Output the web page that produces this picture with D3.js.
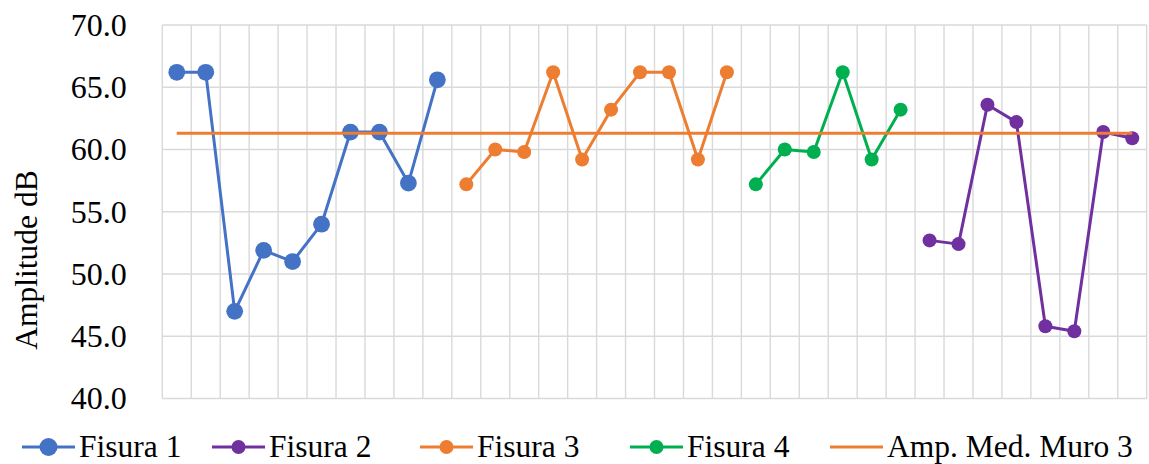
<!DOCTYPE html>
<html><head><meta charset="utf-8">
<script src="https://cdn.jsdelivr.net/npm/d3@7"></script>
</head><body style="margin:0;background:#fff"><svg id="c" width="1149" height="464" style="display:block"></svg>
<script>
const categories = [1,2,3,4,5,6,7,8,9,10,11,12,13,14,15,16,17,18,19,20,21,22,23,24,25,26,27,28,29,30,31,32,33,34];
const yTicks = [40,45,50,55,60,65,70];
const fisura1 = [66.2,66.2,47.0,51.9,51.0,54.0,61.4,61.4,57.3,65.6,null,null,null,null,null,null,null,null,null,null,null,null,null,null,null,null,null,null,null,null,null,null,null,null];
const fisura2 = [null,null,null,null,null,null,null,null,null,null,null,null,null,null,null,null,null,null,null,null,null,null,null,null,null,null,52.7,52.4,63.6,62.2,45.8,45.4,61.4,60.9];
const fisura3 = [null,null,null,null,null,null,null,null,null,null,57.2,60.0,59.8,66.2,59.2,63.2,66.2,66.2,59.2,66.2,null,null,null,null,null,null,null,null,null,null,null,null,null,null];
const fisura4 = [null,null,null,null,null,null,null,null,null,null,null,null,null,null,null,null,null,null,null,null,57.2,60.0,59.8,66.2,59.2,63.2,null,null,null,null,null,null,null,null];
const meanMuro3 = 61.3;
const seriesNames = ["Fisura 1","Fisura 2","Fisura 3","Fisura 4","Amp. Med. Muro 3"];

const colors = {"Fisura 1":"#4472C4","Fisura 2":"#7030A0","Fisura 3":"#ED7D31","Fisura 4":"#00B050","Amp. Med. Muro 3":"#ED7D31"};
const series = [
  {name:"Fisura 1", values:fisura1, r:8.4},
  {name:"Fisura 2", values:fisura2, r:7},
  {name:"Fisura 3", values:fisura3, r:7},
  {name:"Fisura 4", values:fisura4, r:7}
];

const svg = d3.select("#c");
const L = 162.3, R = 1146.7, T = 25, B = 398.5;
const x = d3.scaleBand().domain(categories).range([L, R]).padding(0);
const y = d3.scaleLinear().domain([40,70]).range([B, T]);
const cx = c => x(c) + x.bandwidth()/2;

const grid = svg.append("g").attr("stroke","#d9d9d9").attr("stroke-width",1.4);
yTicks.forEach(t => grid.append("line").attr("x1",L).attr("x2",R).attr("y1",y(t)).attr("y2",y(t)));
categories.forEach(c => grid.append("line").attr("x1",x(c)).attr("x2",x(c)).attr("y1",T).attr("y2",B));
grid.append("line").attr("x1",R).attr("x2",R).attr("y1",T).attr("y2",B);

const yAxis = svg.append("g").attr("transform",`translate(${L},0)`)
  .call(d3.axisLeft(y).tickValues(yTicks).tickFormat(d3.format(".1f")).tickSize(0).tickPadding(35.5));
yAxis.attr("font-family","Liberation Serif").attr("font-size",32);
yAxis.select(".domain").remove();
yAxis.selectAll("text").attr("font-family","Liberation Serif").attr("font-size",32).attr("fill","#000");

svg.append("text").attr("transform",`translate(37,260) rotate(-90)`)
  .attr("text-anchor","middle").attr("font-family","Liberation Serif").attr("font-size",31.5)
  .attr("fill","#000").text("Amplitude dB");

const line = d3.line().defined(d => d.v != null).x(d => cx(d.c)).y(d => y(d.v));
series.forEach(s => {
  const pts = categories.map((c,i) => ({c, v:s.values[i]}));
  const g = svg.append("g");
  g.append("path").datum(pts).attr("d", line).attr("fill","none")
    .attr("stroke", colors[s.name]).attr("stroke-width",3).attr("stroke-linejoin","round");
  g.selectAll("circle").data(pts.filter(d => d.v != null)).join("circle")
    .attr("cx", d => cx(d.c)).attr("cy", d => y(d.v)).attr("r", s.r).attr("fill", colors[s.name]);
});
const meanPts = categories.map(c => ({c, v:meanMuro3}));
svg.append("path").datum(meanPts).attr("d", line).attr("fill","none")
  .attr("stroke", colors["Amp. Med. Muro 3"]).attr("stroke-width",3);

// legend
const legX = [22, 212, 420, 630, 830];
const legY = 447;
seriesNames.forEach((n,i) => {
  const g = svg.append("g").attr("transform",`translate(${legX[i]},${legY})`);
  g.append("line").attr("x1",0).attr("x2",53).attr("stroke",colors[n]).attr("stroke-width",3);
  if (i < 4) g.append("circle").attr("cx",26.5).attr("r", i===0 ? 9 : 7).attr("fill",colors[n]);
  g.append("text").attr("x", 57).attr("y", 10).attr("font-family","Liberation Serif").attr("font-size",31.5)
    .attr("fill","#000").text(n);
});
</script></body></html>
